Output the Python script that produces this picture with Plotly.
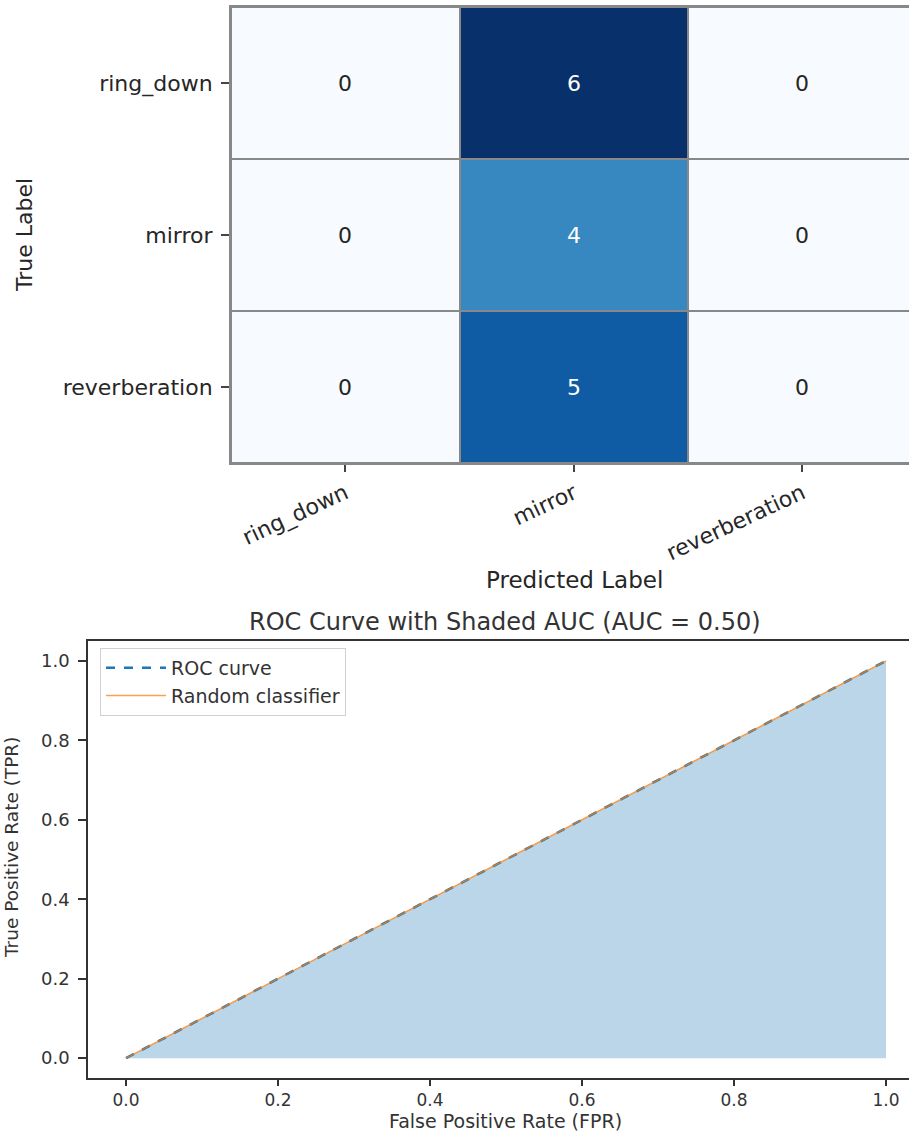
import plotly.graph_objects as go

# ---- data ----
class_names = ["ring_down", "mirror", "reverberation"]
cm_ring_down = [0, 6, 0]
cm_mirror = [0, 4, 0]
cm_reverberation = [0, 5, 0]
conf_matrix = [cm_ring_down, cm_mirror, cm_reverberation]

fpr = [0.0, 1.0]
tpr = [0.0, 1.0]
rand_x = [0.0, 1.0]
rand_y = [0.0, 1.0]
auc_value = 0.50

roc_ticks = [0.0, 0.2, 0.4, 0.6, 0.8, 1.0]
roc_tick_text = ["0.0", "0.2", "0.4", "0.6", "0.8", "1.0"]

W, H = 909, 1133


def px_x(x):
    return x / W


def px_y(y):
    return 1 - y / H


# matplotlib "Blues"
blues = [
    [0.0, "#f7fbff"], [0.125, "#deebf7"], [0.25, "#c6dbef"], [0.375, "#9ecae1"],
    [0.5, "#6baed6"], [0.625, "#4292c6"], [0.75, "#2171b5"], [0.875, "#08519c"],
    [1.0, "#08306b"],
]

FONT = "DejaVu Sans, Verdana, sans-serif"
TXT = "#262626"
ROC_TXT = "#333333"

fig = go.Figure()

zmax = max(max(r) for r in conf_matrix)

# ---- confusion matrix ----
fig.add_trace(go.Heatmap(
    z=conf_matrix, x=list(range(len(class_names))), y=list(range(len(class_names))),
    colorscale=blues, zmin=0, zmax=zmax, showscale=False,
    xgap=2, ygap=2, hoverinfo="skip",
    xaxis="x", yaxis="y",
))

annotations = []
for i, row in enumerate(conf_matrix):
    for j, v in enumerate(row):
        annotations.append(dict(
            x=j, y=i, xref="x", yref="y", text=str(v), showarrow=False,
            font=dict(family=FONT, size=22, color="white" if v > zmax / 2 else TXT),
        ))

# ---- ROC curve ----
fig.add_trace(go.Scatter(
    x=fpr, y=tpr, mode="lines", fill="tozeroy",
    fillcolor="rgba(31,119,180,0.3)", line=dict(width=0),
    showlegend=False, hoverinfo="skip", xaxis="x2", yaxis="y2",
))
fig.add_trace(go.Scatter(
    x=fpr, y=tpr, mode="lines", name="ROC curve",
    line=dict(color="#1f77b4", width=2.5, dash="dash"),
    xaxis="x2", yaxis="y2",
))
fig.add_trace(go.Scatter(
    x=rand_x, y=rand_y, mode="lines", name="Random classifier",
    line=dict(color="rgba(255,127,14,0.75)", width=1.5),
    xaxis="x2", yaxis="y2",
))


def label(text, x, y, size, color, angle=0):
    return dict(text=text, x=px_x(x), y=px_y(y), xref="paper", yref="paper",
                xanchor="center", yanchor="middle", textangle=angle, showarrow=False,
                font=dict(family=FONT, size=size, color=color))


annotations += [
    label("True Label", 25, 235, 22, TXT, -90),
    label("Predicted Label", 574, 580, 23, TXT),
    label(f"ROC Curve with Shaded AUC (AUC = {auc_value:.2f})", 505, 622, 24, ROC_TXT),
    label("True Positive Rate (TPR)", 11, 848, 18.5, ROC_TXT, -90),
    label("False Positive Rate (FPR)", 505, 1121, 19, ROC_TXT),
]

cell_w = (688 - 231) / 2.0

fig.update_layout(
    width=W, height=H,
    margin=dict(l=0, r=0, t=0, b=0),
    paper_bgcolor="white", plot_bgcolor="#888888",
    font=dict(family=FONT, color=TXT),
    annotations=annotations,
    showlegend=True,
    legend=dict(
        x=px_x(100), y=px_y(648), xanchor="left", yanchor="top",
        bgcolor="rgba(255,255,255,0.8)", bordercolor="#d0d0d0", borderwidth=1,
        font=dict(family=FONT, size=19, color=ROC_TXT),
        tracegroupgap=0, itemwidth=60,
    ),
    xaxis=dict(
        domain=[px_x(231), 1.0], range=[-0.5, -0.5 + (W - 231) / cell_w],
        tickmode="array", tickvals=list(range(len(class_names))), ticktext=class_names,
        tickangle=-25, ticks="outside", ticklen=7, tickwidth=1.5, tickcolor="#444",
        tickfont=dict(family=FONT, size=22, color=TXT),
        showline=True, mirror=True, linecolor="#888888", linewidth=2,
        showgrid=False, zeroline=False, anchor="y",
    ),
    yaxis=dict(
        domain=[px_y(463), px_y(7)], range=[2.5, -0.5],
        tickmode="array", tickvals=list(range(len(class_names))), ticktext=class_names,
        ticks="outside", ticklen=8, tickwidth=1.5, tickcolor="#444",
        ticklabelstandoff=4,
        tickfont=dict(family=FONT, size=22, color=TXT),
        showline=True, linecolor="#888888", linewidth=2,
        showgrid=False, zeroline=False, anchor="x",
    ),
    xaxis2=dict(
        domain=[px_x(88), 1.0], range=[-0.05, -0.05 + (W - 88) / 760.0],
        tickmode="array", tickvals=roc_ticks, ticktext=roc_tick_text,
        ticks="outside", ticklen=6, tickwidth=1.5, tickcolor="#333",
        ticklabelstandoff=0,
        tickfont=dict(family=FONT, size=17, color=ROC_TXT),
        showline=True, mirror=True, linecolor="#333333", linewidth=1.5,
        showgrid=False, zeroline=False, anchor="y2",
    ),
    yaxis2=dict(
        domain=[px_y(1078), px_y(641)], range=[-0.05, 1.05],
        tickmode="array", tickvals=roc_ticks, ticktext=roc_tick_text,
        ticks="outside", ticklen=8, tickwidth=1.5, tickcolor="#333",
        ticklabelstandoff=5,
        tickfont=dict(family=FONT, size=18, color=ROC_TXT),
        showline=True, linecolor="#333333", linewidth=1.5,
        showgrid=False, zeroline=False, anchor="x2",
    ),
)

# ROC panel sits on white; the heatmap panel keeps gray behind its cell gaps
fig.add_shape(type="rect", xref="x2 domain", yref="y2 domain", x0=0, x1=1, y0=0, y1=1,
              fillcolor="white", line=dict(width=0), layer="below")

fig.write_html("out.html")
